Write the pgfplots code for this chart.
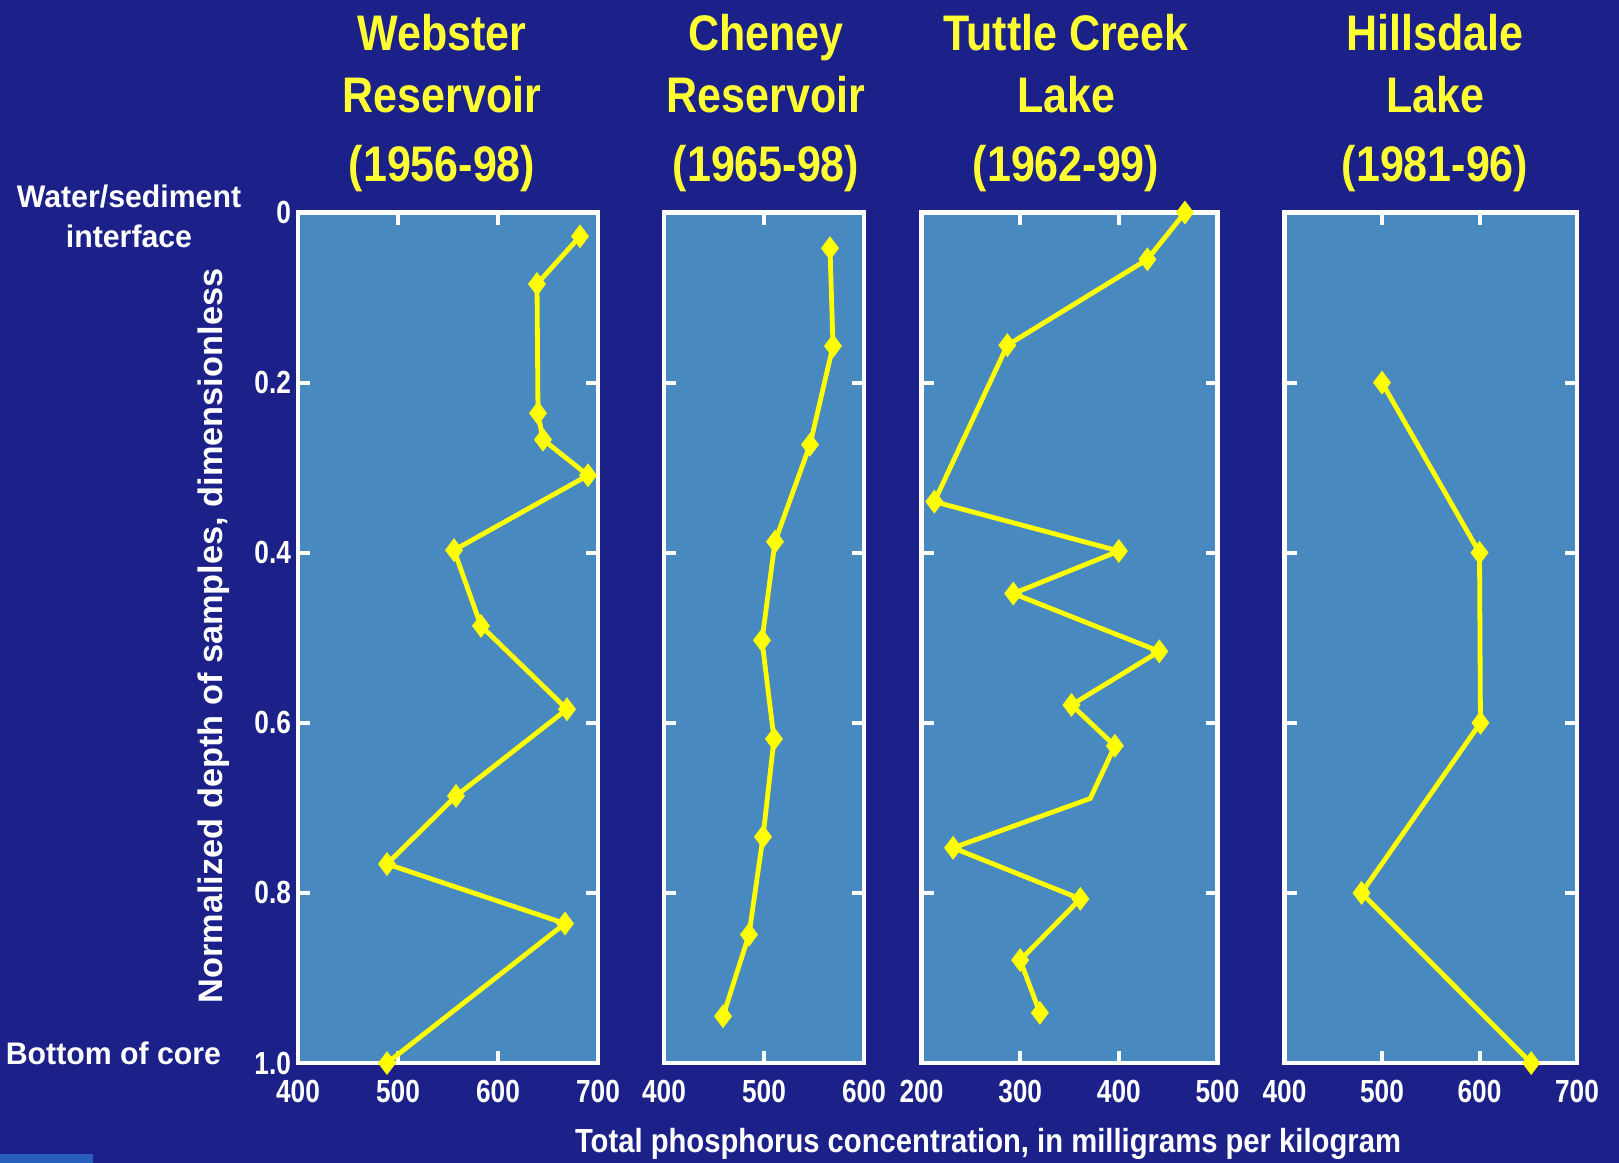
\documentclass[border=0pt]{standalone}
\usepackage{fontspec}
\setmainfont{Liberation Sans}
\newfontfamily\titlefont{Liberation Sans}[FakeStretch=0.86]
\newfontfamily\tickfont{Liberation Sans}[FakeStretch=0.82]
\newfontfamily\labfont{Liberation Sans}[FakeStretch=0.97]
\newfontfamily\ylabfont{Liberation Sans}[FakeStretch=1.01]
\newfontfamily\xlabfont{Liberation Sans}[FakeStretch=0.875]
\usepackage{pgfplots}
\pgfplotsset{compat=1.18}
\definecolor{navy}{RGB}{27,33,136}
\definecolor{panelc}{RGB}{72,137,192}
\definecolor{ylw}{RGB}{255,255,0}
\definecolor{ylwt}{RGB}{255,255,50}
\definecolor{blue2}{RGB}{40,95,190}
\pgfplotsset{
  panel/.style={
    scale only axis, anchor=north west, y dir=reverse,
    ymin=0, ymax=1, ytick={0,0.2,0.4,0.6,0.8,1}, yticklabels={},
    axis background/.style={fill=panelc},
    axis line style={white, line width=2.2pt},
    every tick/.style={white, line width=2pt},
    major tick length=6pt, tick align=inside,
    xtick pos=both, ytick pos=both,
    clip=false,
    /pgf/number format/assume math mode=true,
    ticklabel style={font=\tickfont\bfseries\fontsize{16}{16}\selectfont, text=white},
    xticklabel style={yshift=-5pt},
  },
  ser/.style={ylw, line width=2.4pt, mark=diamond*, mark size=4pt,
    mark options={ylw, solid, fill=ylw}},
}
\begin{document}
\begin{tikzpicture}[x=1pt,y=1pt]
\fill[navy] (0pt,0pt) rectangle (809.5pt,-581.5pt);
\fill[blue2] (0pt,-577pt) rectangle (46.5pt,-581.5pt);

% Webster Reservoir
\begin{axis}[panel, at={(149pt,-106.25pt)}, width=150pt, height=425.25pt,
  xmin=400, xmax=700, xtick={400,500,600,700},
  yticklabels={0,0.2,0.4,0.6,0.8,1.0}]
\addplot[ser] coordinates {
(682,0.028) (639,0.084) (640,0.236) (645,0.267) (690,0.309) (556,0.397)
(583,0.486) (669,0.584) (558,0.686) (489,0.766) (667,0.836) (489,1.0)};
\end{axis}

% Cheney Reservoir
\begin{axis}[panel, at={(332pt,-106.25pt)}, width=100pt, height=425.25pt,
  xmin=400, xmax=600, xtick={400,500,600}]
\addplot[ser] coordinates {
(566,0.042) (569,0.157) (546,0.273) (511,0.387) (498,0.503)
(510,0.619) (499,0.734) (485,0.849) (459,0.945)};
\end{axis}

% Tuttle Creek Lake
\begin{axis}[panel, at={(460.75pt,-106.25pt)}, width=148pt, height=425.25pt,
  xmin=200, xmax=500, xtick={200,300,400,500}]
\addplot[ser, mark indices={1,2,3,4,5,6,7,8,9,11,12,13,14}] coordinates {
(467,0.0) (429,0.055) (287,0.156) (213,0.340) (400,0.398) (293,0.448)
(441,0.516) (352,0.579) (396,0.627) (371,0.689) (232,0.747) (361,0.807)
(300,0.879) (320,0.941)};
\end{axis}

% Hillsdale Lake
\begin{axis}[panel, at={(642.25pt,-106.25pt)}, width=146.25pt, height=425.25pt,
  xmin=400, xmax=700, xtick={400,500,600,700}]
\addplot[ser] coordinates {
(500,0.2) (600,0.4) (601,0.6) (479,0.8) (653,1.0)};
\end{axis}

% titles
\tikzset{ttl/.style={anchor=base, text=ylwt, inner sep=0pt,
  font=\titlefont\bfseries\fontsize{25}{25}\selectfont}}
\node[ttl] at (221pt,-25pt) {Webster};
\node[ttl] at (221pt,-56pt) {Reservoir};
\node[ttl] at (221pt,-90.5pt) {(1956-98)};
\node[ttl] at (383pt,-25pt) {Cheney};
\node[ttl] at (383pt,-56pt) {Reservoir};
\node[ttl] at (383pt,-90.5pt) {(1965-98)};
\node[ttl] at (533pt,-25pt) {Tuttle Creek};
\node[ttl] at (533pt,-56pt) {Lake};
\node[ttl] at (533pt,-90.5pt) {(1962-99)};
\node[ttl] at (717.5pt,-25pt) {Hillsdale};
\node[ttl] at (717.5pt,-56pt) {Lake};
\node[ttl] at (717.5pt,-90.5pt) {(1981-96)};

% side labels
\tikzset{lab/.style={anchor=base, text=white, inner sep=0pt,
  font=\labfont\bfseries\fontsize{15.6}{15.6}\selectfont}}
\node[lab] at (64.5pt,-103.5pt) {Water/sediment};
\node[lab] at (64.5pt,-123.5pt) {interface};
\node[lab] at (56.75pt,-532.3pt) {Bottom of core};
\node[text=white, inner sep=0pt, rotate=90,
  font=\ylabfont\bfseries\fontsize{17}{17}\selectfont] at (107pt,-318pt) {Normalized depth of samples, dimensionless};
\node[text=white, inner sep=0pt,
  font=\xlabfont\bfseries\fontsize{16.7}{16.7}\selectfont] at (494pt,-572pt) {Total phosphorus concentration, in milligrams per kilogram};

\pgfresetboundingbox
\path[use as bounding box] (0pt,0pt) rectangle (809.5pt,-581.5pt);
\end{tikzpicture}
\end{document}
